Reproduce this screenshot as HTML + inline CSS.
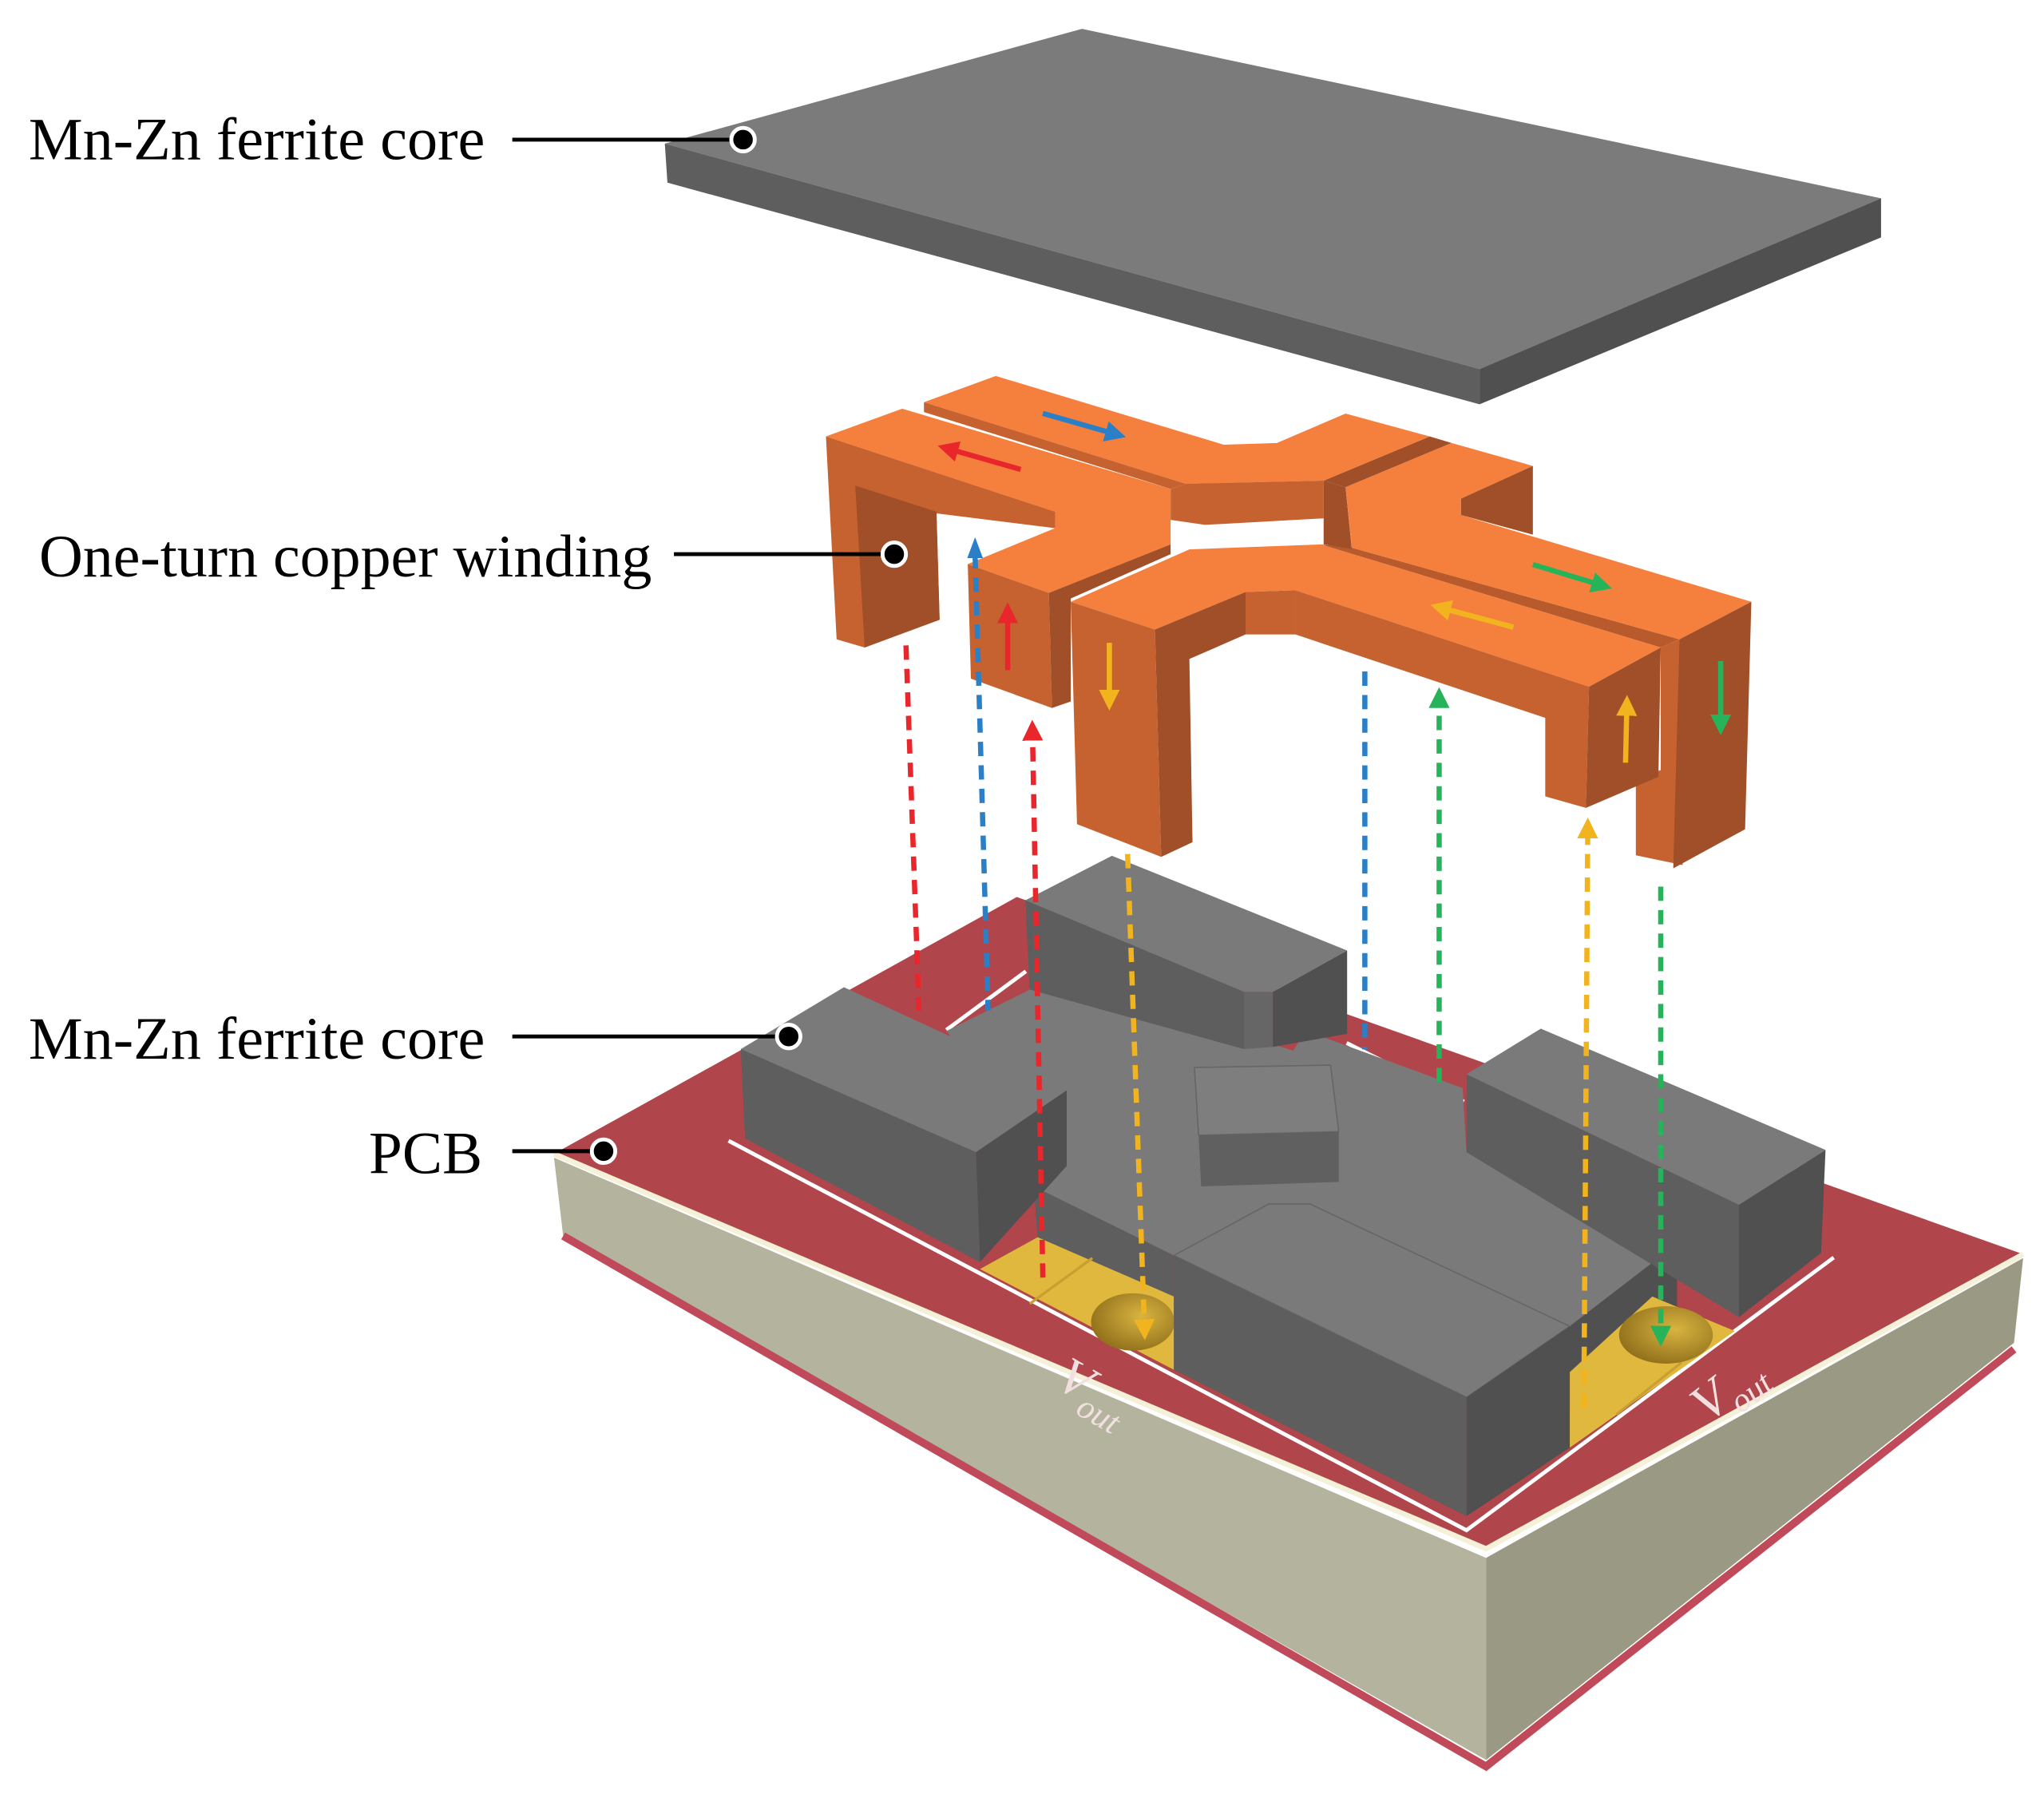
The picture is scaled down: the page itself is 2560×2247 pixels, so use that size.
<!DOCTYPE html>
<html><head><meta charset="utf-8"><style>
html,body{margin:0;padding:0;background:#fff;}
svg{display:block;}
text{font-family:"Liberation Serif",serif;}
</style></head><body>
<svg width="2560" height="2247" viewBox="0 0 1568 1376" xmlns="http://www.w3.org/2000/svg">
<defs>
<marker id="ar" markerWidth="4" markerHeight="4" refX="2" refY="2" orient="auto" markerUnits="strokeWidth"><path d="M0,0 L4,2 L0,4 z" fill="context-stroke"/></marker>
<radialGradient id="hole" cx="0.6" cy="0.4" r="0.7"><stop offset="0" stop-color="#d9b440"/><stop offset="1" stop-color="#8a6a18"/></radialGradient>
</defs>
<!-- top core -->
<polygon points="510,110 830,22 1443,152 1135,283" fill="#7b7b7b"/>
<polygon points="510,110 1135,283 1135,310 512,140" fill="#5e5e5e"/>
<polygon points="1135,283 1443,152 1443,182 1135,310" fill="#505050"/>

<!-- PCB -->
<polygon points="425,888 1140,1195 1140,1350 432,948" fill="#b4b49e"/>
<polygon points="1140,1195 1552,965 1545,1030 1140,1350" fill="#9a9a84"/>
<polyline points="432,948 1140,1355 1545,1035" fill="none" stroke="#c04a5a" stroke-width="6"/>
<polygon points="425,885 780,688 1552,962 1140,1188" fill="#b0464b"/>
<polyline points="425,885 1140,1188 1552,962" fill="none" stroke="#f4f1d8" stroke-width="4"/>
<polyline points="558.9,875 1125,1173.8 1406.7,964.6" fill="none" stroke="#fff" stroke-width="3"/>
<line x1="726" y1="790" x2="787" y2="745" stroke="#fff" stroke-width="3"/>
<line x1="1033" y1="800" x2="1123" y2="845" stroke="#fff" stroke-width="3"/>

<!-- central slab -->
<polygon points="726.5,790.6 815,746.7 992,806 1001.7,790.6 1122,834.6 1125,883.8 1286.5,954 1204.2,1017.3 900.5,963 793,910" fill="#7a7a7a"/>
<polygon points="793,910 900.5,963 900.5,1050.7 796,949" fill="#5e5e5e"/>
<polygon points="1204.2,1017.3 1286.5,954 1286.5,1012 1204.2,1060" fill="#505050"/>
<!-- back block -->
<polygon points="786.6,690.5 853,656.4 1033.4,729 976.5,760.8 954.3,760.8" fill="#7a7a7a"/>
<polygon points="786.6,690.5 954.3,760.8 954.3,804.7 789.8,759" fill="#5e5e5e"/>
<polygon points="954.3,760.8 976.5,760.8 976.5,803 954.3,804.7" fill="#666"/>
<polygon points="976.5,760.8 1033.4,729 1033.4,793 976.5,803" fill="#505050"/>
<!-- small square -->
<polygon points="916.3,818.8 1020.7,817 1027,868 919.5,870.8" fill="#7e7e7e" stroke="#666" stroke-width="1"/>
<polygon points="919.5,870.8 1027,868 1027,906.6 921.4,910" fill="#606060"/>
<!-- left block -->
<polygon points="568.3,804.7 647.4,757.2 818.3,836.3 748.7,883.8" fill="#7a7a7a"/>
<polygon points="568.3,804.7 748.7,883.8 751.8,968.1 571.5,873.2" fill="#5e5e5e"/>
<polygon points="748.7,883.8 818.3,836.3 818.3,894.3 751.8,968.1" fill="#505050"/>
<!-- right block -->
<polygon points="1125,824 1182,789 1400.4,882 1334,924.2" fill="#7a7a7a"/>
<polygon points="1125,824 1334,924.2 1334,1010.3 1125,883.8" fill="#5e5e5e"/>
<polygon points="1334,924.2 1400.4,882 1397,961 1334,1010.3" fill="#505050"/>
<!-- gold pads -->
<polygon points="751.8,973.4 796,949 900.5,994.5 900.5,1050.7" fill="#e0b83e"/>
<line x1="790" y1="1000" x2="838" y2="965" stroke="#c9a030" stroke-width="2"/>
<ellipse cx="869" cy="1014" rx="32" ry="22" fill="url(#hole)"/>
<polygon points="1204.2,1052.5 1267.5,994.5 1330.8,1021 1204.2,1110.5" fill="#e0b83e"/>
<line x1="1240" y1="1085" x2="1290" y2="1045" stroke="#c9a030" stroke-width="2"/>
<ellipse cx="1278" cy="1024" rx="36" ry="22" fill="url(#hole)"/>
<!-- front block -->
<polygon points="900.5,963 973.3,923.5 1005,923.5 1204.2,1017.3 1125,1071.8" fill="#7a7a7a" stroke="#666" stroke-width="1"/>
<polygon points="900.5,963 1125,1071.8 1125,1163 900.5,1050.7" fill="#5e5e5e"/>
<polygon points="1125,1071.8 1204.2,1017.3 1204.2,1110.5 1125,1163" fill="#505050"/>

<text x="808" y="1063" fill="#f2e0e0" font-size="40" font-style="italic" transform="rotate(30 808 1063)">V<tspan font-size="26" dy="10">out</tspan></text>
<text x="1310" y="1092" fill="#f2e0e0" font-size="40" font-style="italic" transform="rotate(-38 1310 1092)">V<tspan font-size="26" dy="10">out</tspan></text>

<!-- copper winding -->
<g>
<polygon points="1015.4,368.6 1096.8,334.7 1113.6,339.7 1032.2,373.6" fill="#a04f28"/>
<polygon points="1037,420 1288.4,490.3 1274,496.6 1013,417.5" fill="#b85a2b"/>
<!-- piece B -->
<polygon points="708.8,308.4 763.9,288.3 938.7,341 979.5,339.7 1032.2,317.1 1096.8,334.7 1015.4,368.6 910,371.1" fill="#f5803e"/>
<polygon points="708.8,308.4 910,371.1 898,374.9 708.8,316" fill="#c5622f"/>
<polygon points="910,371 1015.4,368.6 1015.4,397.5 924.4,402.5 898,398.7 898,375" fill="#c5622f"/>
<polygon points="1015.4,368.6 1032.2,373.6 1037,421 1015.4,417.5" fill="#a04f28"/>
<polygon points="1032.2,373.6 1113.6,339.7 1175.9,357.3 1120.8,382.4 1120.8,395 1343.5,461.5 1288.4,490.3 1037,420" fill="#f5803e"/>
<polygon points="1175.9,357.3 1175.9,410 1120.8,395 1120.8,382.4" fill="#a04f28"/>
<polygon points="1274,496.6 1288.4,490.3 1290.8,663.5 1254.9,656 1254.9,597 1274,590.7" fill="#c5622f"/>
<polygon points="1288.4,490.3 1343.5,461.5 1338.7,636 1283.6,666" fill="#a04f28"/>
<!-- piece A -->
<polygon points="633.6,334.7 692.1,313.4 898,374.9 898,417.5 804.6,454.7 742.4,432.6 809.4,405 809.4,392.4" fill="#f5803e"/>
<polygon points="633.6,334.7 809.4,392.4 809.4,405 718.4,393.7 720.8,475.3 663.3,496.6 641.8,490.3" fill="#c5622f"/>
<polygon points="656.1,372.4 718.4,392.4 720.8,475.3 663.3,496.6" fill="#a04f28"/>
<polygon points="742.4,432.6 804.6,454.7 807,543 744.8,520.5" fill="#c5622f"/>
<polygon points="804.6,454.7 898,417.5 898,425 821.4,459 821.4,538 807,543" fill="#a04f28"/>
<!-- piece C -->
<polygon points="821.4,461.5 912.4,421.3 1013,417.5 1274,496.6 1219,526.7 993.8,452.7 955.5,454 886,482.8" fill="#f5803e"/>
<polygon points="821.4,461.5 886,482.8 890.8,657.2 826.2,632.1" fill="#c5622f"/>
<polygon points="886,482.8 955.5,454 955.5,486.6 912.4,505.4 914.8,646 890.8,657.2" fill="#a04f28"/>
<polygon points="955.5,454 993.8,452.7 993.8,486.6 955.5,486.6" fill="#c5622f"/>
<polygon points="993.8,452.7 1219,526.7 1216.6,619.6 1185.4,610.8 1185.4,550.6 993.8,486.6" fill="#c5622f"/>
<polygon points="1219,526.7 1274,496.6 1272.2,595.8 1216.6,619.6" fill="#a04f28"/>
</g>
<!-- small arrows on copper -->
<g stroke-width="4" fill="none" marker-end="url(#ar)">
<line x1="800" y1="317" x2="856" y2="333" stroke="#2a7fc6"/>
<line x1="783" y1="360" x2="727" y2="344" stroke="#e8262b"/>
<line x1="1176" y1="433" x2="1229" y2="449" stroke="#27b35a"/>
<line x1="1161" y1="481" x2="1105" y2="466" stroke="#f2b41e"/>
<line x1="773" y1="514" x2="773" y2="470" stroke="#e8262b"/>
<line x1="851" y1="493" x2="851" y2="537" stroke="#f2b41e"/>
<line x1="1247" y1="585" x2="1248" y2="541" stroke="#f2b41e"/>
<line x1="1320" y1="507" x2="1320" y2="556" stroke="#27b35a"/>
</g>
<!-- dashed connectors -->
<g stroke-width="4" fill="none" stroke-dasharray="11,7">
<line x1="695" y1="495" x2="705" y2="775" stroke="#e8262b"/>
<line x1="748" y1="425" x2="758" y2="775" stroke="#2a7fc6"/>
<line x1="1047" y1="515" x2="1047" y2="805" stroke="#2a7fc6"/>
<line x1="865" y1="655" x2="878" y2="1020" stroke="#f2b41e" marker-end="url(#ar)"/>
<line x1="800" y1="980" x2="792" y2="560" stroke="#e8262b" marker-end="url(#ar)"/>
<line x1="1104" y1="830" x2="1104" y2="535" stroke="#27b35a" marker-end="url(#ar)"/>
<line x1="1215" y1="1080" x2="1218" y2="635" stroke="#f2b41e" marker-end="url(#ar)"/>
<line x1="1274" y1="680" x2="1274" y2="1025" stroke="#27b35a" marker-end="url(#ar)"/>
</g>
<polygon points="748,412 742,428 754,428" fill="#2a7fc6"/>

<!-- labels -->
<g font-size="46" fill="#000">
<text x="22" y="122" textLength="350" lengthAdjust="spacingAndGlyphs">Mn-Zn ferrite core</text>
<text x="30" y="442" textLength="470" lengthAdjust="spacingAndGlyphs">One-turn copper winding</text>
<text x="22" y="812" textLength="350" lengthAdjust="spacingAndGlyphs">Mn-Zn ferrite core</text>
<text x="283" y="900" textLength="87" lengthAdjust="spacingAndGlyphs">PCB</text>
</g>
<g stroke="#000" stroke-width="3">
<line x1="393" y1="107" x2="570" y2="107"/>
<line x1="517" y1="425" x2="686" y2="425"/>
<line x1="393" y1="795" x2="605" y2="795"/>
<line x1="393" y1="883" x2="463" y2="883"/>
</g>
<g fill="#000" stroke="#fff" stroke-width="3">
<circle cx="570" cy="107" r="9"/>
<circle cx="686" cy="425" r="9"/>
<circle cx="605" cy="795" r="9"/>
<circle cx="463" cy="883" r="9"/>
</g>
</svg>
</body></html>
